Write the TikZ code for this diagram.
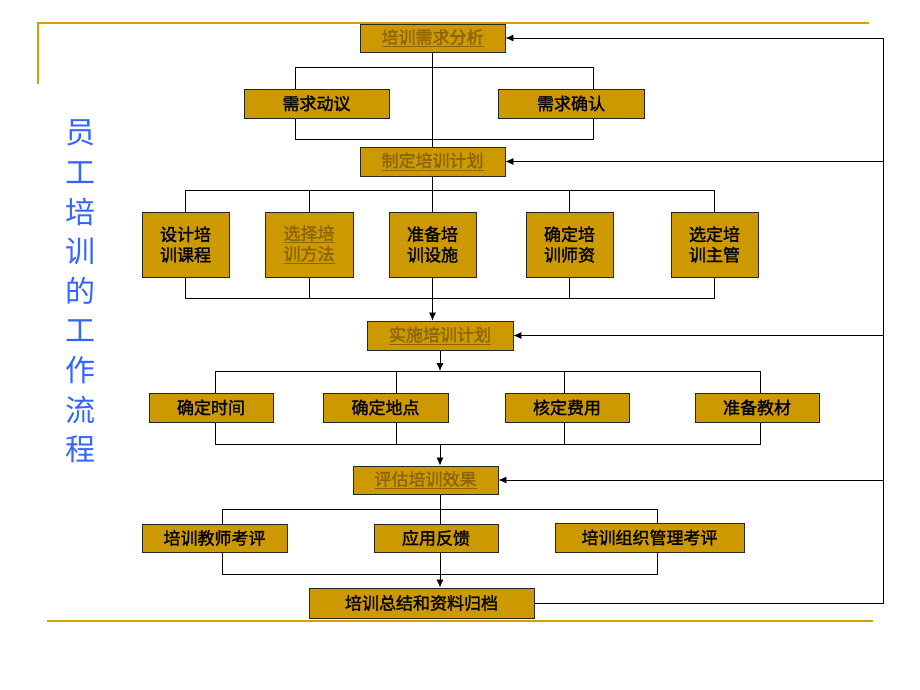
\documentclass[tikz,border=0pt]{standalone}
\usepackage{fontspec}
\setmainfont{Noto Sans CJK SC}
\newfontfamily\boxfont{Noto Sans CJK SC}[FakeBold=1.6]
\usetikzlibrary{arrows.meta,backgrounds}
\definecolor{gold}{HTML}{CC9900}
\definecolor{linkc}{HTML}{8C6400}
\definecolor{titleblue}{HTML}{3366FF}
\definecolor{deco}{HTML}{D4A000}
\begin{document}
\begin{tikzpicture}[x=1pt,y=-1pt,
  box/.style={draw=black!85, line width=0.9pt, fill=gold, inner sep=0pt,
    font=\boxfont\fontsize{17}{20.5}\selectfont, align=center},
  lnk/.style={text=linkc},
  conn/.style={draw=black, line width=0.8pt},
  arr/.style={conn, -{Latex[length=8pt,width=7pt]}},
  decor/.style={draw=deco, line width=1.8pt}]
\useasboundingbox (0,0) rectangle (920,690);

% title
\node[text=titleblue, font=\fontsize{30}{39.6}\selectfont, align=center, inner sep=0pt]
  (title) at (80,291.5) {员\\工\\培\\训\\的\\工\\作\\流\\程};

% boxes
\node[box, lnk, minimum width=145pt, minimum height=28pt] (xq) at (432.5,38) {\underline{培训需求分析}};
\node[box, minimum width=145pt, minimum height=29pt] (dy) at (316.5,103.5) {需求动议};
\node[box, minimum width=146pt, minimum height=29pt] (qr) at (571,103.5) {需求确认};
\node[box, lnk, minimum width=145pt, minimum height=29pt] (zd) at (432.5,161.5) {\underline{制定培训计划}};

\node[box, minimum width=87pt, minimum height=65pt] (b1) at (185.5,244.5) {设计培\\训课程};
\node[box, lnk, minimum width=88pt, minimum height=65pt] (b2) at (309,244.5) {\underline{选择培}\\\underline{训方法}};
\node[box, minimum width=87pt, minimum height=65pt] (b3) at (432.5,244.5) {准备培\\训设施};
\node[box, minimum width=87pt, minimum height=65pt] (b4) at (569.5,244.5) {确定培\\训师资};
\node[box, minimum width=87pt, minimum height=65pt] (b5) at (714.5,244.5) {选定培\\训主管};

\node[box, lnk, minimum width=146pt, minimum height=29pt] (ss) at (440,335.5) {\underline{实施培训计划}};

\node[box, minimum width=124pt, minimum height=29pt] (c1) at (211,407.5) {确定时间};
\node[box, minimum width=125pt, minimum height=29pt] (c2) at (385.5,407.5) {确定地点};
\node[box, minimum width=124pt, minimum height=29pt] (c3) at (567,407.5) {核定费用};
\node[box, minimum width=124pt, minimum height=29pt] (c4) at (757,407.5) {准备教材};

\node[box, lnk, minimum width=145pt, minimum height=28pt] (pg) at (425.5,480) {\underline{评估培训效果}};

\node[box, minimum width=145pt, minimum height=28pt] (d1) at (214.5,538) {培训教师考评};
\node[box, minimum width=124pt, minimum height=28pt] (d2) at (436,538) {应用反馈};
\node[box, minimum width=189pt, minimum height=29pt] (d3) at (649.5,537.5) {培训组织管理考评};

\node[box, minimum width=225pt, minimum height=30pt] (zj) at (421.5,603) {培训总结和资料归档};

\coordinate (rb) at (883,603);
\coordinate (rt) at (883,38);
\coordinate (s1) at (440,371);
\coordinate (s2) at (440,444);

\begin{scope}[on background layer]
  % decorative lines
  \draw[decor] (38,84) -- (38,23) -- (869,23);
  \draw[decor] (47,621) -- (873,621);
  % brackets
  \draw[conn] (295,67) rectangle (593,139);
  \draw[conn] (185.5,190) rectangle (714.5,298);
  \draw[conn] (b2.center |- 0,190) -- (b2.center |- 0,298);
  \draw[conn] (b4.center |- 0,190) -- (b4.center |- 0,298);
  \draw[conn] (215,371) rectangle (760,444);
  \draw[conn] (396,371) -- (396,444);
  \draw[conn] (564,371) -- (564,444);
  \draw[conn] (222,509) rectangle (657,574);
  % main flow
  \draw[conn] (xq.south) -- (zd.north);
  \draw[arr] (zd.south) -- (zd.south |- ss.north);
  \draw[arr] (ss.south) -- (s1);
  \draw[arr] (s2) -- (s2 |- pg.north);
  \draw[arr] (s2 |- pg.south) -- (s2 |- zj.north);
  % feedback
  \draw[conn] (zj.east) -- (rb) -- (rt);
  \draw[arr] (rt) -- (xq.east);
  \draw[arr] (rb |- zd.east) -- (zd.east);
  \draw[arr] (rb |- ss.east) -- (ss.east);
  \draw[arr] (rb |- pg.east) -- (pg.east);
\end{scope}
\end{tikzpicture}
\end{document}
